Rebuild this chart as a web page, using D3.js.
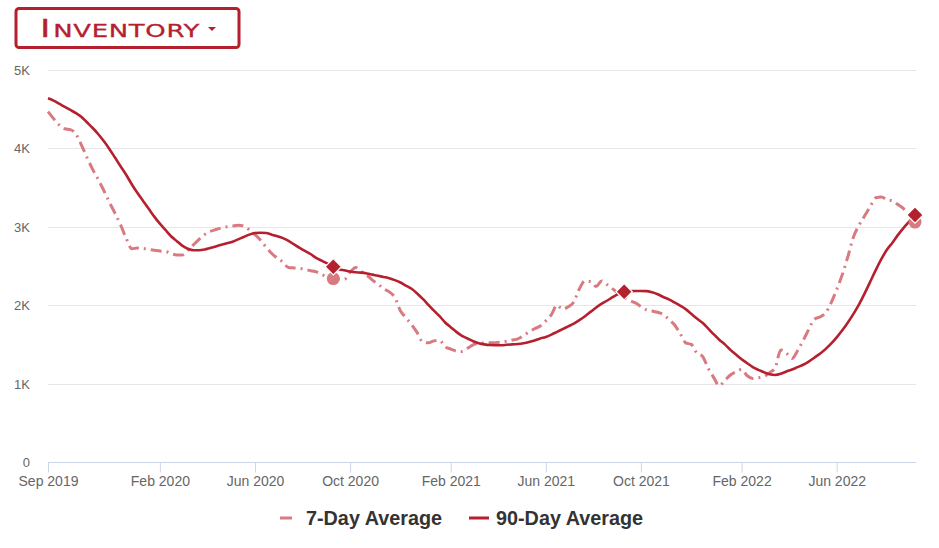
<!DOCTYPE html>
<html>
<head>
<meta charset="utf-8">
<script src="https://cdn.jsdelivr.net/npm/d3@7/dist/d3.min.js"></script>
<style>
  html, body { margin: 0; padding: 0; background: #fff; }
  svg { display: block; font-family: "Liberation Sans", Arial, sans-serif; }
</style>
</head>
<body>
<div id="chart"></div>
<script>
// ---- Data (weekly points, index 0 = Sep 2019) ----
const weekCount = 156;
const tickIndices = [0, 20, 37, 54, 72, 89, 106, 124, 141];
const tickLabels = ["Sep 2019", "Feb 2020", "Jun 2020", "Oct 2020", "Feb 2021", "Jun 2021", "Oct 2021", "Feb 2022", "Jun 2022"];
const yTicks = [0, 1000, 2000, 3000, 4000, 5000];
const yTickLabels = ["0", "1K", "2K", "3K", "4K", "5K"];
const seriesNames = ["7-Day Average", "90-Day Average"];

const avg7 = [
  4470, 4380, 4300, 4250, 4240, 4180, 4040, 3880, 3730, 3600,
  3460, 3310, 3170, 3020, 2850, 2720, 2730, 2725, 2710, 2700,
  2690, 2685, 2660, 2640, 2640, 2700, 2770, 2840, 2900, 2940,
  2965, 2985, 3000, 3010, 3020, 3010, 2960, 2900, 2830, 2740,
  2660, 2600, 2550, 2480, 2475, 2470, 2455, 2440, 2425, 2390,
  2360, 2340, 2335, 2330, 2420, 2480, 2430, 2385, 2320, 2270,
  2210, 2170, 2100, 1930, 1840, 1750, 1650, 1530, 1520, 1545,
  1550, 1470, 1440, 1415, 1410, 1450, 1495, 1515, 1518, 1520,
  1522, 1530, 1540, 1555, 1570, 1610, 1660, 1700, 1735, 1800,
  1880, 2000, 1950, 1980, 2040, 2210, 2310, 2300, 2240, 2310,
  2260, 2205, 2150, 2100, 2060, 2030, 1985, 1940, 1925, 1910,
  1880, 1820, 1750, 1640, 1520, 1500, 1390, 1350, 1200, 1080,
  975, 1040, 1110, 1150, 1180, 1100, 1065, 1075, 1090, 1140,
  1200, 1430, 1390, 1320, 1420, 1550, 1690, 1820, 1850, 1900,
  2030, 2200, 2390, 2620, 2870, 3020, 3140, 3260, 3370, 3380,
  3345, 3330, 3280, 3230, 3150, 3060
];

const avg90 = [
  4640, 4610, 4570, 4530, 4490, 4450, 4400, 4330, 4260, 4180,
  4090, 3990, 3880, 3770, 3660, 3540, 3430, 3330, 3230, 3130,
  3040, 2960, 2880, 2820, 2760, 2720, 2700, 2700, 2710, 2730,
  2750, 2770, 2790, 2810, 2840, 2870, 2900, 2920, 2925, 2920,
  2900, 2880, 2855, 2820, 2775, 2730, 2690, 2650, 2600, 2565,
  2530, 2490, 2460, 2445, 2430, 2420, 2415, 2405, 2390, 2375,
  2360, 2345, 2320, 2290, 2250, 2210, 2150, 2080, 2005, 1930,
  1860, 1780, 1720, 1660, 1610, 1575, 1540, 1515, 1500, 1492,
  1490, 1490, 1495, 1500, 1505, 1515, 1530, 1550, 1575, 1595,
  1625, 1660, 1695, 1730, 1765, 1810, 1860, 1915, 1970, 2020,
  2060, 2105, 2145, 2172, 2180, 2182, 2182, 2180, 2165, 2140,
  2105, 2075, 2035, 1995, 1950, 1890, 1830, 1775, 1705, 1630,
  1560, 1500, 1430, 1370, 1310, 1260, 1210, 1175, 1145, 1120,
  1110, 1125, 1155, 1180, 1210, 1240, 1280, 1330, 1380, 1440,
  1510, 1590, 1680, 1780, 1890, 2010, 2150, 2300, 2450, 2590,
  2710, 2800, 2900, 2990, 3070, 3150
];

// Year-over-year markers (same week each year)
const markerIndices = [51, 103, 155];
const circleIndices = [51, 155];

// ---- Layout / style ----
const W = 939, H = 548;
const M = { left: 48 };
const C7 = "#d97a80", C90 = "#b5202e";

const svg = d3.select("#chart").append("svg").attr("width", W).attr("height", H);

const x = d3.scaleLinear().domain([0, weekCount - 1]).range([M.left, 915]);
const y = d3.scaleLinear().domain([0, 5000]).range([462, 70]);

// Gridlines
svg.append("g").selectAll("line").data(yTicks.slice(1)).join("line")
  .attr("x1", M.left).attr("x2", 916)
  .attr("y1", d => Math.round(y(d)) + 0.5).attr("y2", d => Math.round(y(d)) + 0.5)
  .attr("stroke", "#e6e6e6").attr("stroke-width", 1);

// Y labels
svg.append("g").selectAll("text").data(yTicks).join("text")
  .attr("x", 30).attr("y", d => y(d) + 5)
  .attr("text-anchor", "end").attr("font-size", 13).attr("fill", "#666")
  .text((d, i) => yTickLabels[i]);

// X axis
const xAxis = d3.axisBottom(x).tickValues(tickIndices)
  .tickFormat((d, i) => tickLabels[i]).tickSize(10).tickSizeOuter(0);
const gx = svg.append("g").attr("transform", "translate(0,462.5)").call(xAxis);
gx.select(".domain").attr("stroke", "#ccd6eb").attr("d", `M${M.left},0H916`);
gx.selectAll(".tick line").attr("stroke", "#ccd6eb");
gx.selectAll(".tick text").attr("font-size", 14).attr("fill", "#666")
  .attr("font-family", "Liberation Sans, Arial, sans-serif").attr("dy", "0").attr("y", 23);

// Lines
const line = d3.line().x((d, i) => x(i)).y(d => y(d)).curve(d3.curveMonotoneX);
svg.append("path").datum(avg7).attr("d", line)
  .attr("fill", "none").attr("stroke", C7).attr("stroke-width", 3)
  .attr("stroke-dasharray", "11,5,2,5");
svg.append("path").datum(avg90).attr("d", line)
  .attr("fill", "none").attr("stroke", C90).attr("stroke-width", 2.6);

// Markers
svg.append("g").selectAll("circle").data(circleIndices).join("circle")
  .attr("cx", d => x(d)).attr("cy", d => y(avg7[d])).attr("r", 6.5)
  .attr("fill", C7);
svg.append("g").selectAll("path").data(markerIndices).join("path")
  .attr("d", d3.symbol().type(d3.symbolDiamond2).size(170))
  .attr("transform", d => `translate(${x(d)},${y(avg90[d])})`)
  .attr("fill", C90).attr("stroke", "#fff").attr("stroke-width", 1.2);

// Legend
const lg = svg.append("g").attr("font-size", 19.8).attr("font-weight", "bold").attr("fill", "#333");
lg.append("line").attr("x1", 280).attr("x2", 292).attr("y1", 518).attr("y2", 518)
  .attr("stroke", C7).attr("stroke-width", 3);
lg.append("text").attr("x", 306).attr("y", 525).text(seriesNames[0]);
lg.append("line").attr("x1", 469).attr("x2", 489).attr("y1", 518).attr("y2", 518)
  .attr("stroke", C90).attr("stroke-width", 3);
lg.append("text").attr("x", 496).attr("y", 525).text(seriesNames[1]);

// Title button
const tb = svg.append("g");
tb.append("rect").attr("x", 16).attr("y", 8.5).attr("width", 223).attr("height", 39)
  .attr("rx", 3).attr("fill", "#fff").attr("stroke", C90).attr("stroke-width", 3);
const tg = tb.append("g");
const tt = tg.append("text").attr("x", 0).attr("y", 0).attr("fill", C90)
  .attr("stroke", C90).attr("stroke-width", 0.3)
  .attr("font-family", "DejaVu Sans, sans-serif").attr("font-weight", "normal")
  .attr("letter-spacing", 0.5);
tt.append("tspan").attr("font-size", 25).text("I");
tt.append("tspan").attr("font-size", 18.5).attr("dx", 1.5).text("NVENTORY");
const tw = tt.node().getComputedTextLength();
tg.attr("transform", `translate(40,37) scale(${158 / tw},1)`);
tb.append("path").attr("d", "M208,27 L216,27 L212,31 Z").attr("fill", C90);
</script>
</body>
</html>
